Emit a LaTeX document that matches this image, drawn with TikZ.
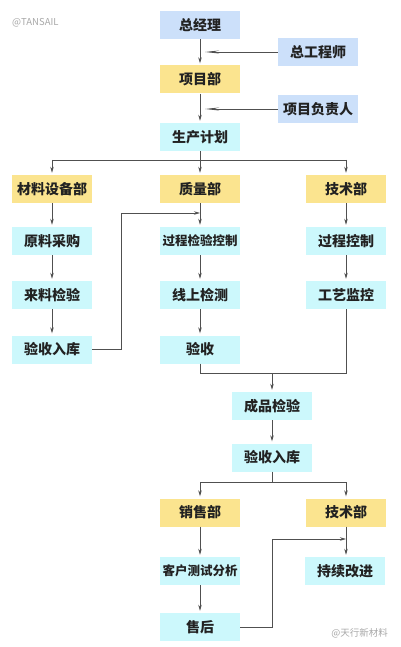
\documentclass[tikz,border=0pt]{standalone}
\usepackage{fontspec}
\setmainfont{Noto Sans CJK SC}
\usetikzlibrary{arrows.meta,calc}
\definecolor{bblue}{HTML}{CCE0FA}
\definecolor{byellow}{HTML}{FBE48F}
\definecolor{bcyan}{HTML}{CCF8FC}
\definecolor{lineg}{HTML}{505050}
\definecolor{txt}{HTML}{222222}
\definecolor{wm}{HTML}{A8A8A8}
\begin{document}
\begin{tikzpicture}[x=1pt,y=-1pt,
  box/.style={minimum width=80pt,minimum height=28pt,inner sep=0pt,text=txt,font=\fontsize{14}{16}\selectfont\bfseries},
  smallbox/.style={box,font=\fontsize{12.5}{14}\selectfont\bfseries},
  bluebox/.style={box,fill=bblue},
  yelbox/.style={box,fill=byellow},
  cyanbox/.style={box,fill=bcyan},
  cyansmall/.style={smallbox,fill=bcyan},
  conn/.style={draw=lineg,line width=0.8pt},
  arr/.style={conn,-{Stealth[length=6pt,width=3.5pt]}},
  longarr/.style={conn,-{Stealth[length=14pt,width=3pt]}},
  wmark/.style={text=wm,inner sep=0pt}
]
\useasboundingbox (0,0) rectangle (400,647);
\fill[white] (0,0) rectangle (400,647);

\node[wmark,font=\fontsize{9.5}{11}\selectfont,anchor=west] (w1) at (12,23) {@TANSAIL};
\node[wmark,font=\fontsize{9.5}{11}\selectfont,anchor=east] (w2) at (388,633) {@天行新材料};

\node[bluebox] (gm) at (200,25) {总经理};
\node[bluebox] (ce) at (318,52) {总工程师};
\node[yelbox] (pd) at (200,79.5) {项目部};
\node[bluebox] (pl) at (318,109) {项目负责人};
\node[cyanbox] (pp) at (200,137) {生产计划};

\node[yelbox] (md) at (52,189) {材料设备部};
\node[yelbox] (qd) at (200,189) {质量部};
\node[yelbox] (td) at (346,189) {技术部};

\node[cyanbox] (a1) at (52,241) {原料采购};
\node[cyanbox] (a2) at (52,295) {来料检验};
\node[cyanbox] (a3) at (52,349.5) {验收入库};

\node[cyansmall] (b1) at (200,241) {过程检验控制};
\node[cyanbox] (b2) at (200,295) {线上检测};
\node[cyanbox] (b3) at (200,349.5) {验收};

\node[cyanbox] (c1) at (346,241) {过程控制};
\node[cyanbox] (c2) at (346,295) {工艺监控};

\node[cyanbox] (fi) at (272,406) {成品检验};
\node[cyanbox] (st) at (272,457.5) {验收入库};

\node[yelbox] (sd) at (200,512.5) {销售部};
\node[yelbox] (td2) at (346,512.5) {技术部};
\node[cyansmall] (cu) at (200,571) {客户测试分析};
\node[cyanbox] (ci) at (345,571) {持续改进};
\node[cyanbox] (as) at (200,627) {售后};

% top chain
\draw[arr,shorten >=2pt] (gm.south) -- (pd.north);
\coordinate (j1) at ($(gm.south|-ce.west)+(5,0)$);
\draw[longarr] (ce.west) -- (j1);
\draw[arr,shorten >=2pt] (pd.south) -- (pp.north);
\coordinate (j2) at ($(pd.south|-pl.west)+(5,0)$);
\draw[longarr] (pl.west) -- (j2);

% branch
\coordinate (br) at (200,160);
\draw[conn] (pp.south) -- (br);
\draw[conn] (md.north|-br) -- (td.north|-br);
\draw[arr,shorten >=2pt] (md.north|-br) -- (md.north);
\draw[arr,shorten >=2pt] (br) -- (qd.north);
\draw[arr,shorten >=2pt] (td.north|-br) -- (td.north);

% columns
\draw[arr,shorten >=2pt] (md.south) -- (a1.north);
\draw[arr,shorten >=2pt] (a1.south) -- (a2.north);
\draw[arr,shorten >=2pt] (a2.south) -- (a3.north);
\draw[arr,shorten >=2pt] (qd.south) -- (b1.north);
\draw[arr,shorten >=2pt] (b1.south) -- (b2.north);
\draw[arr,shorten >=2pt] (b2.south) -- (b3.north);
\draw[arr,shorten >=2pt] (td.south) -- (c1.north);
\draw[arr,shorten >=2pt] (c1.south) -- (c2.north);

% cross link
\coordinate (k1) at (121,213);
\coordinate (k2) at (200,213);
\draw[arr] (a3.east) -| (k1) -- (k2);

% merge
\coordinate (m1) at (200,373);
\coordinate (m2) at (272,373);
\draw[conn] (b3.south) -- (m1) -- (c2.south|-m1) -- (c2.south);
\draw[arr,shorten >=2pt] (m2) -- (fi.north);
\draw[arr,shorten >=2pt] (fi.south) -- (st.north);

% lower branch
\coordinate (n1) at (272,482);
\draw[conn] (st.south) -- (n1);
\draw[conn] (sd.north|-n1) -- (td2.north|-n1);
\draw[arr,shorten >=2pt] (sd.north|-n1) -- (sd.north);
\draw[arr,shorten >=2pt] (td2.north|-n1) -- (td2.north);
\draw[arr,shorten >=2pt] (sd.south) -- (cu.north);
\draw[arr,shorten >=2pt] (cu.south) -- (as.north);
\draw[arr,shorten >=2pt] (td2.south) -- (ci.north-|td2.south);

\coordinate (p1) at (272,539);
\coordinate (p2) at (346,539);
\draw[arr] (as.east) -| (p1) -- (p2);
\end{tikzpicture}
\end{document}
